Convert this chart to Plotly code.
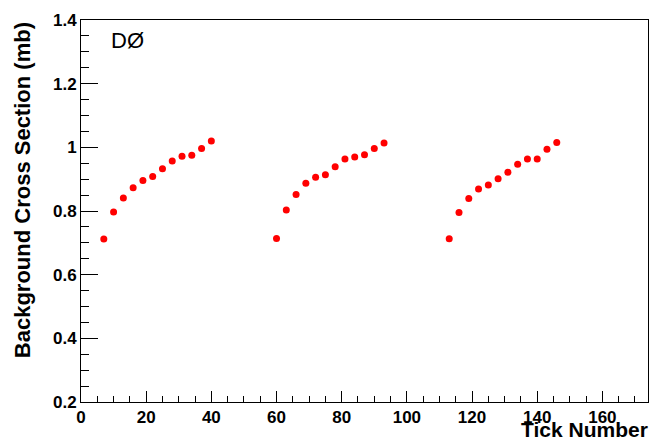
import plotly.graph_objects as go

# Data
tick_g1 = [7, 10, 13, 16, 19, 22, 25, 28, 31, 34, 37, 40]
xs_g1 = [0.712, 0.797, 0.841, 0.873, 0.896, 0.908, 0.933, 0.957, 0.972, 0.975, 0.996, 1.020]
tick_g2 = [60, 63, 66, 69, 72, 75, 78, 81, 84, 87, 90, 93]
xs_g2 = [0.714, 0.803, 0.852, 0.887, 0.906, 0.914, 0.939, 0.963, 0.970, 0.977, 0.996, 1.014]
tick_g3 = [113, 116, 119, 122, 125, 128, 131, 134, 137, 140, 143, 146]
xs_g3 = [0.713, 0.795, 0.839, 0.869, 0.882, 0.901, 0.922, 0.947, 0.963, 0.963, 0.994, 1.015]

y_ticks = [0.2, 0.4, 0.6, 0.8, 1.0, 1.2, 1.4]
y_tick_labels = ["0.2", "0.4", "0.6", "0.8", "1", "1.2", "1.4"]
x_ticks = [0, 20, 40, 60, 80, 100, 120, 140, 160]
x_tick_labels = [str(v) for v in x_ticks]

fig = go.Figure()
fig.add_trace(go.Scatter(
    x=tick_g1 + tick_g2 + tick_g3,
    y=xs_g1 + xs_g2 + xs_g3,
    mode="markers",
    marker=dict(color="#ff0000", size=7, line=dict(width=0)),
    showlegend=False,
))

FAM = "Liberation Sans, Arial, sans-serif"

fig.update_layout(
    width=660, height=442,
    margin=dict(l=81, r=11, t=15, b=40),
    paper_bgcolor="white", plot_bgcolor="white",
    font=dict(family=FAM, color="black"),
    xaxis=dict(
        range=[0, 174], showgrid=False, zeroline=False,
        showline=True, linecolor="black", linewidth=1, mirror=True,
        ticks="inside", ticklen=11, tickcolor="black", tickwidth=1,
        tickvals=x_ticks, ticktext=x_tick_labels,
        tickfont=dict(family=FAM, size=17, color="black", weight="bold"),
        minor=dict(dtick=5, ticks="inside", ticklen=6, tickcolor="black", showgrid=False),
    ),
    yaxis=dict(
        range=[0.2, 1.4], showgrid=False, zeroline=False,
        showline=True, linecolor="black", linewidth=1, mirror=True,
        ticks="inside", ticklen=17, tickcolor="black", tickwidth=1,
        tickvals=y_ticks, ticktext=y_tick_labels,
        tickfont=dict(family=FAM, size=17, color="black", weight="bold"),
        minor=dict(dtick=0.05, ticks="inside", ticklen=8, tickcolor="black", showgrid=False),
    ),
    annotations=[
        dict(text="<b>Tick Number</b>", xref="paper", yref="paper", x=1.0, y=0,
             xanchor="right", yanchor="bottom", yshift=-40, xshift=1, showarrow=False,
             borderpad=0,
             font=dict(family=FAM, size=21, color="black")),
        dict(text="<b>Background Cross Section (mb)</b>", xref="paper", yref="paper",
             x=-0.1037, y=1.0, xanchor="center", yanchor="top", textangle=-90, showarrow=False,
             font=dict(family=FAM, size=22, color="black")),
        dict(text="DØ", xref="paper", yref="paper", x=0.05, y=1.0, xanchor="left", yanchor="top",
             yshift=-6, showarrow=False,
             font=dict(family=FAM, size=22, color="black")),
    ],
)

fig.write_html("out.html", config={"displayModeBar": False},
               post_script="document.body.style.margin='0';")
